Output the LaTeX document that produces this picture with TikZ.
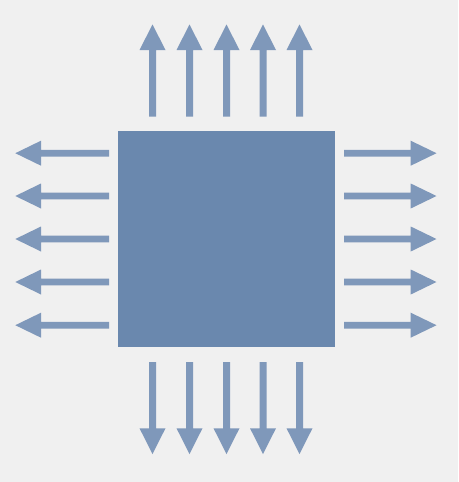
\documentclass[tikz,border=0pt]{standalone}
\definecolor{bg}{HTML}{F0F0F0}
\definecolor{chipc}{HTML}{6A88AE}
\definecolor{arrc}{HTML}{7F98BA}
\begin{document}
\begin{tikzpicture}[x=1pt,y=-1pt,
  arr/.style={fill=arrc,draw=none},
  chipbox/.style={fill=chipc,draw=none,minimum width=216.7pt,minimum height=216.7pt,inner sep=0pt,outer sep=0pt}]
\fill[bg] (0,0) rectangle (458,482);
\useasboundingbox (0,0) rectangle (458,482);
\node[chipbox] (chip) at (226.3,239.1) {};
% top arrows
\foreach \x in {152.5,189.5,226.5,263,299.5}{
  \fill[arr] (\x-3.5,116.7) -- (\x-3.5,50) -- (\x-13,50) -- (\x,24.5) -- (\x+13,50) -- (\x+3.5,50) -- (\x+3.5,116.7) -- cycle;
}
% bottom arrows
\foreach \x in {152.5,189.5,226.5,263,299.5}{
  \fill[arr] (\x-3.5,362) -- (\x-3.5,428.3) -- (\x-13,428.3) -- (\x,454) -- (\x+13,428.3) -- (\x+3.5,428.3) -- (\x+3.5,362) -- cycle;
}
% left arrows
\foreach \y in {153.2,196,239,282,325.2}{
  \fill[arr] (109,\y-3.4) -- (41,\y-3.4) -- (41,\y-12.5) -- (15.3,\y) -- (41,\y+12.5) -- (41,\y+3.4) -- (109,\y+3.4) -- cycle;
}
% right arrows
\foreach \y in {153.2,196,239,282,325.2}{
  \fill[arr] (344,\y-3.4) -- (410.7,\y-3.4) -- (410.7,\y-12.5) -- (436.5,\y) -- (410.7,\y+12.5) -- (410.7,\y+3.4) -- (344,\y+3.4) -- cycle;
}
\end{tikzpicture}
\end{document}
